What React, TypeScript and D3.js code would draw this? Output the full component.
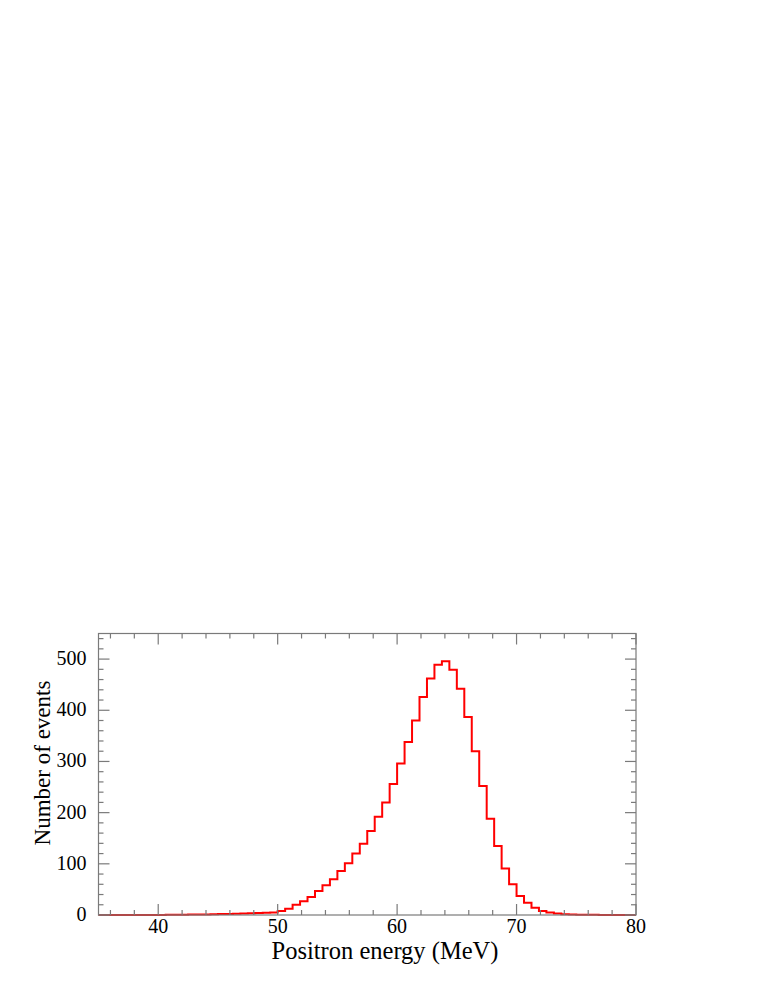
import React, { useEffect, useRef } from 'react';
import * as d3 from 'd3';

// histogram: 72 bins of 0.625 MeV from 35 to 80 MeV
const binStart = 35;
const binWidth = 0.625;
const counts = [
  0, 0, 0, 0, 0, 0, 0, 0, 0, 0.3,
  0.5, 0.7, 1, 1, 1.2, 1.5, 1.8, 2, 2.5, 3,
  3.5, 4, 4.5, 5, 8, 12, 20, 27, 35, 47,
  58, 70, 86, 101, 120, 139, 164, 192, 220, 256,
  296, 338, 380, 426, 462, 489, 496, 479, 442, 387,
  320, 252, 188, 135, 91, 60, 37, 24, 14, 8,
  5, 3, 1.5, 1, 0.7, 0.5, 0.3, 0.2, 0, 0,
  0, 0,
];

const xMajorTicks = [40, 50, 60, 70, 80];
const yMajorTicks = [0, 100, 200, 300, 400, 500];
const xLabel = 'Positron energy (MeV)';
const yLabel = 'Number of events';

const App = () => {
  const svgRef = useRef<SVGSVGElement>(null);

  useEffect(() => {
    const W = 763;
    const H = 987;
    const margin = { top: 633.5, right: 127, bottom: 72, left: 98.5 };
    const svg = d3.select(svgRef.current).attr('width', W).attr('height', H);
    svg.selectAll('*').remove();

    const x = d3.scaleLinear().domain([35, 80]).range([margin.left, W - margin.right]);
    const y = d3.scaleLinear().domain([0, 550]).range([H - margin.bottom, margin.top]);

    const [x0, x1] = x.range();
    const [y0, y1] = y.range();
    const frame = '#7a7a7a';
    const font = '"Liberation Serif", "Times New Roman", serif';

    // histogram step line
    const pts: [number, number][] = [];
    counts.forEach((c, i) => {
      const lo = binStart + i * binWidth;
      pts.push([x(lo), y(c)]);
      pts.push([x(lo + binWidth), y(c)]);
    });
    const line = d3.line();
    svg.append('path')
      .attr('d', line(pts))
      .attr('fill', 'none')
      .attr('stroke', '#ff0000')
      .attr('stroke-width', 2);

    // frame
    svg.append('rect')
      .attr('x', x0).attr('y', y1)
      .attr('width', x1 - x0).attr('height', y0 - y1)
      .attr('fill', 'none').attr('stroke', frame).attr('stroke-width', 1.2);

    const ticks = svg.append('g').attr('stroke', frame).attr('stroke-width', 1.2);

    // x ticks, bottom and top (inward)
    d3.range(36, 80.01, 2).forEach((v) => {
      const len = v % 10 === 0 ? 11 : 5;
      ticks.append('line').attr('x1', x(v)).attr('x2', x(v)).attr('y1', y0).attr('y2', y0 - len);
      ticks.append('line').attr('x1', x(v)).attr('x2', x(v)).attr('y1', y1).attr('y2', y1 + len);
    });
    // y ticks, left and right
    d3.range(0, 550.01, 20).forEach((v) => {
      const len = v % 100 === 0 ? 11 : 5;
      ticks.append('line').attr('y1', y(v)).attr('y2', y(v)).attr('x1', x0).attr('x2', x0 + len);
      ticks.append('line').attr('y1', y(v)).attr('y2', y(v)).attr('x1', x1).attr('x2', x1 - len);
    });

    // tick labels
    svg.append('g').selectAll('text').data(xMajorTicks).enter().append('text')
      .attr('x', (d) => x(d))
      .attr('y', y0 + 18)
      .attr('text-anchor', 'middle')
      .style('font-family', font)
      .style('font-size', '20px')
      .text((d) => d);

    svg.append('g').selectAll('text').data(yMajorTicks).enter().append('text')
      .attr('x', x0 - 12)
      .attr('y', (d) => y(d) + 6)
      .attr('text-anchor', 'end')
      .style('font-family', font)
      .style('font-size', '20px')
      .text((d) => d);

    // axis titles
    svg.append('text')
      .attr('x', 385)
      .attr('y', y0 + 44)
      .attr('text-anchor', 'middle')
      .style('font-family', font)
      .style('font-size', '24.5px')
      .text(xLabel);

    svg.append('text')
      .attr('transform', `translate(50, 763) rotate(-90)`)
      .attr('text-anchor', 'middle')
      .style('font-family', font)
      .style('font-size', '23px')
      .text(yLabel);
  }, []);

  return <svg ref={svgRef} style={{ position: 'absolute', left: 0, top: 0 }} />;
};

export default App;
